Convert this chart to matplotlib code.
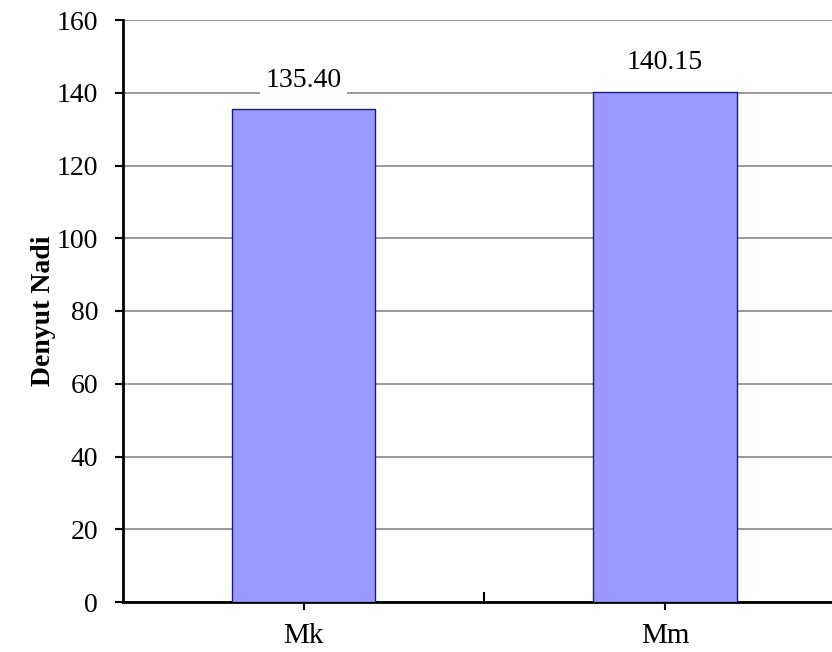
import matplotlib.pyplot as plt
from matplotlib.ticker import FixedLocator

groups = ["Mk", "Mm"]
pulse = [135.40, 140.15]
y_ticks = [0, 20, 40, 60, 80, 100, 120, 140, 160]

plt.rcParams["font.family"] = ["Liberation Serif", "DejaVu Serif"]

fig = plt.figure(figsize=(8.32, 6.52), dpi=100)
ax = fig.add_axes([123 / 832, 1 - 602 / 652, 1 - 123 / 832, (602 - 20) / 652])

x = range(len(groups))
ax.bar(x, pulse, width=0.397, color="#9999ff", edgecolor="#1a1a8c",
       linewidth=1.0, zorder=3)

# value labels sit on a white box that hides the gridline behind them
for xi, v in zip(x, pulse):
    ax.text(xi, v + 8.1, f"{v:.2f}", ha="center", va="center", fontsize=20,
            zorder=4, bbox=dict(facecolor="white", edgecolor="none", pad=4))

ax.set_xlim(-0.5, 1.4626)
ax.set_ylim(0, 160)
ax.set_yticks(y_ticks)
ax.tick_params(axis="y", labelsize=20, length=6, width=1.5, direction="out", pad=12)
ax.yaxis.grid(True, color="#888888", linewidth=1.2, zorder=0)

ax.set_xticks(list(x))
ax.set_xticklabels(groups, fontsize=21)
ax.tick_params(axis="x", length=6, width=1.5, direction="out", pad=9)
ax.xaxis.set_minor_locator(FixedLocator([0.5]))
ax.tick_params(axis="x", which="minor", length=7, width=1.5, direction="in")

for side in ["top", "right"]:
    ax.spines[side].set_visible(False)
for side in ["left", "bottom"]:
    ax.spines[side].set_linewidth(2)

ax.set_ylabel("Denyut Nadi", fontsize=20, fontweight="bold", labelpad=0)

fig.savefig("out.png", dpi=100)
